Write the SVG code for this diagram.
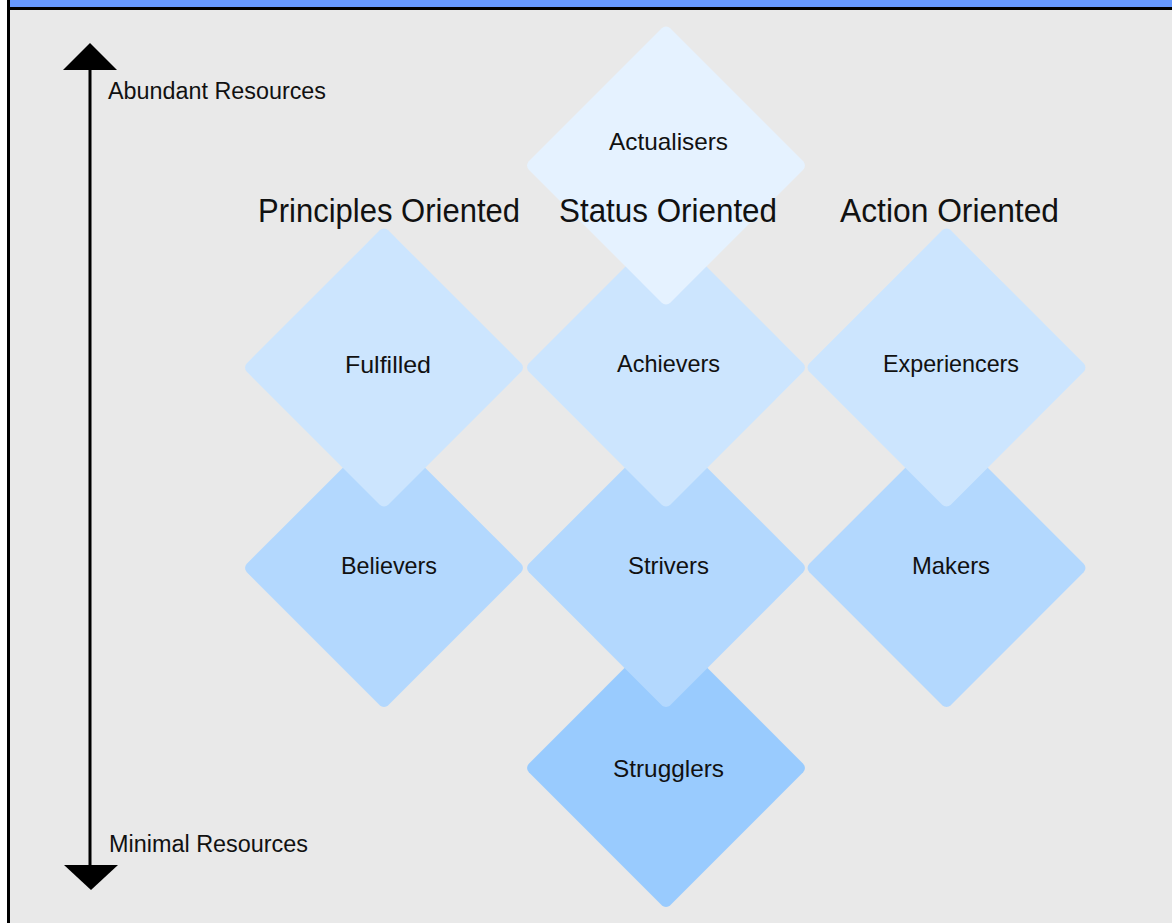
<svg xmlns="http://www.w3.org/2000/svg" width="1172" height="923" viewBox="0 0 1172 923">
<style>
  .lbl { font-family: "Liberation Sans", Arial, sans-serif; font-size: 24px; fill: #111; text-anchor: middle; }
  .hdr { font-family: "Liberation Sans", Arial, sans-serif; font-size: 33px; fill: #111; }
  .axis { font-family: "Liberation Sans", Arial, sans-serif; font-size: 23px; fill: #111; }
  .d1 { fill: #e5f2ff; }
  .d2 { fill: #cce5fe; }
  .d3 { fill: #b3d8fe; }
  .d4 { fill: #99cbfe; }
</style>
<defs>
  <rect id="dia" x="-100" y="-100" width="200" height="200" rx="6" ry="6" transform="rotate(45)"/>
</defs>
<rect x="0" y="0" width="1172" height="923" fill="#ffffff"/>
<rect x="10" y="10" width="1162" height="913" fill="#e9e9e9"/>
<rect x="10" y="0" width="1162" height="7" fill="#6699ff"/>
<rect x="7" y="7" width="1165" height="3" fill="#000"/>
<rect x="7" y="0" width="3" height="923" fill="#000"/>

<g id="axis">
  <line x1="90" y1="66" x2="90" y2="868" stroke="#000" stroke-width="3"/>
  <polygon points="90,43 117,70 63,70" fill="#000"/>
  <polygon points="91,890 118,865 64,865" fill="#000"/>
  <text class="axis" x="108" y="99" textLength="218" lengthAdjust="spacingAndGlyphs">Abundant Resources</text>
  <text class="axis" x="109" y="852" textLength="199" lengthAdjust="spacingAndGlyphs">Minimal Resources</text>
</g>

<g id="connectors"></g>

<g id="strugglers">
  <use href="#dia" class="d4" transform="translate(666,768)"/>
  <text class="lbl" x="668.5" y="777" textLength="111" lengthAdjust="spacingAndGlyphs">Strugglers</text>
</g>
<g id="believers">
  <use href="#dia" class="d3" transform="translate(384,568)"/>
  <text class="lbl" x="389" y="574" textLength="96" lengthAdjust="spacingAndGlyphs">Believers</text>
</g>
<g id="strivers">
  <use href="#dia" class="d3" transform="translate(666,568)"/>
  <text class="lbl" x="668.5" y="574" textLength="81" lengthAdjust="spacingAndGlyphs">Strivers</text>
</g>
<g id="makers">
  <use href="#dia" class="d3" transform="translate(946.5,568)"/>
  <text class="lbl" x="951" y="574" textLength="78" lengthAdjust="spacingAndGlyphs">Makers</text>
</g>
<g id="fulfilled">
  <use href="#dia" class="d2" transform="translate(384,367.5)"/>
  <text class="lbl" x="388" y="373" textLength="86" lengthAdjust="spacingAndGlyphs">Fulfilled</text>
</g>
<g id="achievers">
  <use href="#dia" class="d2" transform="translate(666,367.5)"/>
  <text class="lbl" x="668.5" y="372" textLength="103" lengthAdjust="spacingAndGlyphs">Achievers</text>
</g>
<g id="experiencers">
  <use href="#dia" class="d2" transform="translate(946.5,367.5)"/>
  <text class="lbl" x="951" y="372" textLength="136" lengthAdjust="spacingAndGlyphs">Experiencers</text>
</g>
<g id="actualisers">
  <use href="#dia" class="d1" transform="translate(666,165.5)"/>
  <text class="lbl" x="668.5" y="150" textLength="119" lengthAdjust="spacingAndGlyphs">Actualisers</text>
</g>

<g id="headers">
  <text class="hdr" x="258" y="222" textLength="262" lengthAdjust="spacingAndGlyphs">Principles Oriented</text>
  <text class="hdr" x="559" y="222" textLength="218" lengthAdjust="spacingAndGlyphs">Status Oriented</text>
  <text class="hdr" x="840" y="222" textLength="219" lengthAdjust="spacingAndGlyphs">Action Oriented</text>
</g>
</svg>
